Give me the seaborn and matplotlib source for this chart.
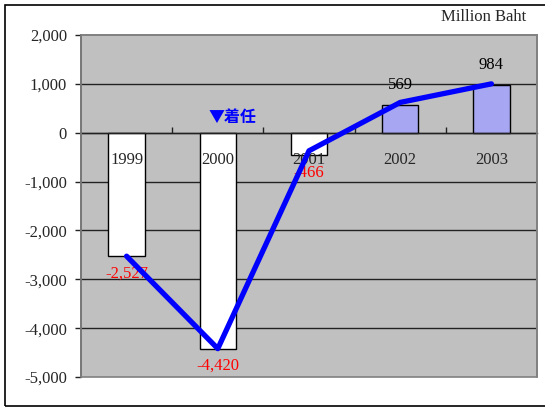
import numpy as np
import pandas as pd
import matplotlib
matplotlib.use('Agg')
import matplotlib.pyplot as plt
import matplotlib.ticker as mticker
from matplotlib.patches import Rectangle
import seaborn as sns

years = ['1999', '2000', '2001', '2002', '2003']
bar_values = [-2527, -4420, -466, 569, 984]
line_values = [-2527, -4420, -370, 620, 1000]
bar_colors = ['#FFFFFF', '#FFFFFF', '#FFFFFF', '#9999FF', '#9999FF']
unit_label = 'Million Baht'
note_label = '▼着任'

sns.set_style('white')
plt.rcParams['font.family'] = ['Liberation Serif', 'DejaVu Serif']

df = pd.DataFrame({'year': years, 'value': bar_values})

fig = plt.figure(figsize=(5.45, 4.07), dpi=100)
ax = fig.add_axes([81 / 545, 30 / 407, 456 / 545, 342 / 407])
ax.set_facecolor('#C0C0C0')
ax.set_axisbelow(False)

sns.barplot(data=df, x='year', y='value', hue='year', palette=bar_colors,
            legend=False, width=0.4, edgecolor='black', linewidth=1, ax=ax)
sns.lineplot(x=np.arange(len(years)), y=line_values, color='#0000FF',
             linewidth=3.8, ax=ax, zorder=4)

ax.set_xlim(-0.5, len(years) - 0.5)
ax.set_ylim(-5000, 2000)
ax.yaxis.set_major_locator(mticker.MultipleLocator(1000))
ax.yaxis.set_major_formatter(mticker.FuncFormatter(lambda v, p: f'{int(v):,}'))
ax.set_xlabel('')
ax.set_ylabel('')

# gridlines
for v in range(-4000, 2000, 1000):
    ax.axhline(v, color='#222222', linewidth=1, zorder=0.5)

# spines / frame
for s in ['top', 'right', 'left']:
    ax.spines[s].set_color('#808080')
    ax.spines[s].set_linewidth(1.2)
ax.spines['left'].set_color('#404040')
ax.spines['bottom'].set_position(('data', 0))
ax.spines['bottom'].set_color('#222222')
ax.spines['bottom'].set_linewidth(1)
ax.add_patch(Rectangle((0, 0), 1, 1, transform=ax.transAxes, fill=False,
                       edgecolor='#808080', linewidth=1.2, zorder=5, clip_on=False))

ax.tick_params(axis='y', direction='out', length=4, width=1, color='#222222',
               pad=6, labelsize=12, left=True)
ax.set_xticks(range(len(years)))
ax.set_xticklabels(years)
ax.set_xticks(np.arange(0.5, len(years) - 0.5, 1), minor=True)
ax.tick_params(axis='x', which='major', length=0, pad=14, labelsize=12)
ax.tick_params(axis='x', which='minor', direction='in', length=4, width=1,
               color='#222222', bottom=True)

# value labels
for i, v in enumerate(bar_values):
    if v < 0:
        ax.annotate(f'{v:,}', (i, v), xytext=(0, -12.5), textcoords='offset points',
                    ha='center', va='center', color='#FF0000', fontsize=12)
    else:
        ax.annotate(f'{v:,}', (i, v), xytext=(0, 14), textcoords='offset points',
                    ha='center', va='center', color='black', fontsize=12)

fig.text(526 / 545, 1 - 17 / 407, unit_label, ha='right', va='center', fontsize=12)
ax.text(1.16, 330, note_label, ha='center', va='center', color='#0000FF',
        fontsize=11.5, fontweight='bold', family=['Noto Sans CJK JP', 'DejaVu Sans'])

# outer frame
fig.patches.append(Rectangle((5 / 545, 1 / 407), 1.0, 1 - 6 / 407,
                             transform=fig.transFigure, fill=False,
                             edgecolor='black', linewidth=1.2, clip_on=False))

fig.savefig('out.png', dpi=100, facecolor='white')
